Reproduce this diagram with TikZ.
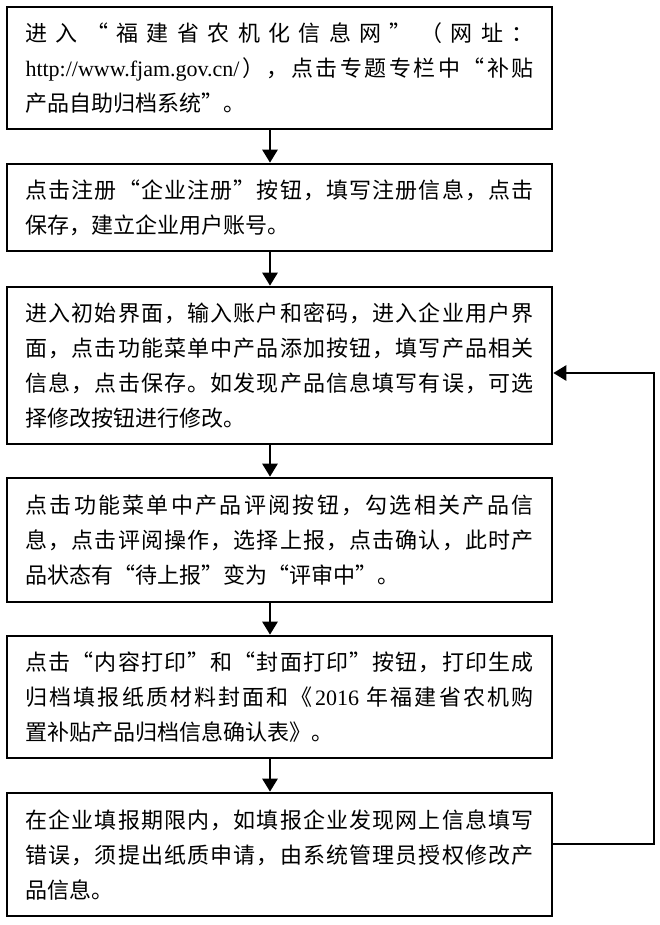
\documentclass[tikz,border=0pt]{standalone}
\usepackage{fontspec}
\setmainfont{Noto Sans CJK SC}
\newfontfamily\latf{Liberation Serif}
\usetikzlibrary{arrows.meta}
\newcommand\lt[1]{{\latf #1}}
\newdimen\txtw \txtw=508pt
\def\sprd#1{#1\futurelet\sprdnext\sprdcheck}
\def\sprdcheck{\ifx\sprdnext\endsprd\expandafter\sprdgobble\else\hfill\expandafter\sprd\fi}
\def\endsprd{\relax}
\def\sprdgobble\endsprd{}
\def\lstrut{\vrule width0pt height26pt depth9pt}
\newcommand\fl[1]{\hbox to\txtw{\lstrut\sprd#1\endsprd}}
\newcommand\lastln[1]{\hbox to\txtw{\lstrut#1\hfil}}
\newcommand\tb[1]{\vbox{\hsize\txtw\baselineskip0pt\lineskip0pt\lineskiplimit0pt #1}}
\tikzset{
  stepbox/.style={draw, line width=2.6pt, minimum width=545pt, inner sep=0pt,
    font=\fontsize{22pt}{35pt}\selectfont},
  flow/.style={line width=2.6pt, -{Triangle[length=13pt,width=15pt]}}
}
\begin{document}
\begin{tikzpicture}
\fill[white] (0,0) rectangle (660pt,-925pt);
\useasboundingbox (0,0) rectangle (660pt,-925pt);
\coordinate (ax) at (270pt,0);
\node[stepbox, minimum height=122pt] (b1) at (279.5pt,-68pt) {\tb{%
\fl{进入“福建省农机化信息网”（网址：}%
\fl{{\lt{http://www.fjam.gov.cn/}}），点击专题专栏中“补贴}%
\lastln{产品自助归档系统”。}}};
\node[stepbox, minimum height=87pt] (b2) at (279.5pt,-207.5pt) {\tb{%
\fl{点击注册“企业注册”按钮，填写注册信息，点击}%
\lastln{保存，建立企业用户账号。}}};
\node[stepbox, minimum height=157pt] (b3) at (279.5pt,-365.5pt) {\tb{%
\fl{进入初始界面，输入账户和密码，进入企业用户界}%
\fl{面，点击功能菜单中产品添加按钮，填写产品相关}%
\fl{信息，点击保存。如发现产品信息填写有误，可选}%
\lastln{择修改按钮进行修改。}}};
\node[stepbox, minimum height=124pt] (b4) at (279.5pt,-540pt) {\tb{%
\fl{点击功能菜单中产品评阅按钮，勾选相关产品信}%
\fl{息，点击评阅操作，选择上报，点击确认，此时产}%
\lastln{品状态有“待上报”变为“评审中”。}}};
\node[stepbox, minimum height=122pt] (b5) at (279.5pt,-697pt) {\tb{%
\fl{点击“内容打印”和“封面打印”按钮，打印生成}%
\fl{归档填报纸质材料封面和《{\lt{2016 }}年福建省农机购}%
\lastln{置补贴产品归档信息确认表》。}}};
\node[stepbox, minimum height=123pt] (b6) at (279.5pt,-854.5pt) {\tb{%
\fl{在企业填报期限内，如填报企业发现网上信息填写}%
\fl{错误，须提出纸质申请，由系统管理员授权修改产}%
\lastln{品信息。}}};
\draw[flow] (b1.south -| ax) -- (b2.north -| ax);
\draw[flow] (b2.south -| ax) -- (b3.north -| ax);
\draw[flow] (b3.south -| ax) -- (b4.north -| ax);
\draw[flow] (b4.south -| ax) -- (b5.north -| ax);
\draw[flow] (b5.south -| ax) -- (b6.north -| ax);
\coordinate (r1) at (654pt,-844pt);
\coordinate (r2) at (654pt,-373pt);
\draw[flow] (b6.east |- r1) -- (r1) -- (r2) -- (b3.east |- r2);
\end{tikzpicture}
\end{document}
